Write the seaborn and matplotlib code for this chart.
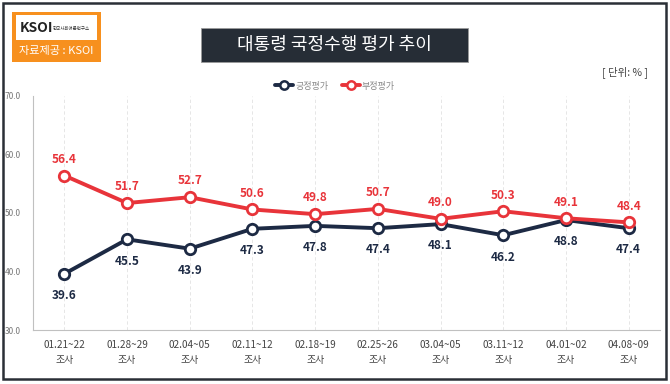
import numpy as np
import pandas as pd
import seaborn as sns
import matplotlib.pyplot as plt
from matplotlib.patches import Rectangle
from matplotlib.lines import Line2D

sns.set_style('white')
plt.rcParams['font.family'] = ['Noto Sans CJK KR', 'DejaVu Sans']

periods = ['01.21~22', '01.28~29', '02.04~05', '02.11~12', '02.18~19',
           '02.25~26', '03.04~05', '03.11~12', '04.01~02', '04.08~09']
positive = [39.6, 45.5, 43.9, 47.3, 47.8, 47.4, 48.1, 46.2, 48.8, 47.4]
negative = [56.4, 51.7, 52.7, 50.6, 49.8, 50.7, 49.0, 50.3, 49.1, 48.4]
series_names = ['긍정평가', '부정평가']
tick_labels = [p + '\n조사' for p in periods]

navy = '#1d2a44'
red = '#e8343a'

df = pd.DataFrame({'기간': periods * 2,
                   '값': positive + negative,
                   '구분': [series_names[0]] * len(periods) + [series_names[1]] * len(periods)})

W, H = 670, 384
fig = plt.figure(figsize=(W / 100, H / 100), dpi=100)

def px(x0, y0, x1, y1):
    return [x0 / W, 1 - y1 / H, (x1 - x0) / W, (y1 - y0) / H]

ax = fig.add_axes(px(33, 96, 660, 330))

for name, col in zip(series_names, [navy, red]):
    sub = df[df['구분'] == name]
    sns.lineplot(data=sub, x='기간', y='값', ax=ax, color=col, linewidth=2.8,
                 marker='o', markersize=7.5, markerfacecolor='white',
                 markeredgecolor=col, markeredgewidth=2.0, legend=False,
                 sort=False)

for i, v in enumerate(positive):
    ax.annotate(f'{v:.1f}', (i, v), xytext=(0, -11), textcoords='offset points',
                ha='center', va='top', fontsize=8.5, color=navy, fontweight='bold')
for i, v in enumerate(negative):
    ax.annotate(f'{v:.1f}', (i, v), xytext=(0, 7), textcoords='offset points',
                ha='center', va='bottom', fontsize=8.5, color=red, fontweight='bold')

ax.set_xlim(-0.5, len(periods) - 0.5)
ax.set_ylim(30, 70)
ax.set_yticks([30, 40, 50, 60, 70])
ax.set_yticklabels([f'{t:.1f}' for t in [30, 40, 50, 60, 70]], fontsize=6, color='#777777')
ax.set_xticks(range(len(periods)))
ax.set_xticklabels(tick_labels, fontsize=7.2, color='#444444', linespacing=1.6)
ax.set_xticks(np.arange(-0.5, len(periods), 1), minor=True)
ax.tick_params(axis='x', which='major', length=0, pad=7)
ax.tick_params(axis='x', which='minor', length=4, color='#bbbbbb', width=0.8)
ax.tick_params(axis='y', length=3, color='#bbbbbb', width=0.8, pad=6)
ax.set_xlabel('')
ax.set_ylabel('')
for i in range(len(periods)):
    ax.axvline(i, color='#e2e2e2', linestyle=(0, (4, 3)), linewidth=0.6, zorder=0)
for s in ['top', 'right']:
    ax.spines[s].set_visible(False)
for s in ['left', 'bottom']:
    ax.spines[s].set_color('#c0c0c0')
    ax.spines[s].set_linewidth(0.8)

# legend
handles = [Line2D([], [], color=c, linewidth=2.8, marker='o', markersize=6,
                  markerfacecolor='white', markeredgecolor=c, markeredgewidth=1.8)
           for c in [navy, red]]
fig.legend(handles, series_names, loc='center', bbox_to_anchor=(335 / W, 1 - 86 / H),
           ncol=2, frameon=False, fontsize=6.5, labelcolor='#888888',
           handlelength=2.0, handletextpad=0.2, columnspacing=1.5)

fig.text(625 / W, 1 - 72 / H, '[ 단위: % ]', ha='center', va='center',
         fontsize=7.5, color='#444444')

# title box
fig.patches.append(Rectangle((201 / W, 1 - 62 / H), 267 / W, 34 / H,
                             transform=fig.transFigure, facecolor='#262d36',
                             edgecolor='#9a9a9a', linewidth=0.6))
fig.text(334 / W, 1 - 45 / H, '대통령 국정수행 평가 추이', ha='center', va='center',
         fontsize=13, color='white')

# logo box
fig.patches.append(Rectangle((12 / W, 1 - 62 / H), 89 / W, 50 / H,
                             transform=fig.transFigure, facecolor='#f7901e',
                             edgecolor='none'))
fig.patches.append(Rectangle((16 / W, 1 - 40 / H), 81 / W, 25 / H,
                             transform=fig.transFigure, facecolor='white',
                             edgecolor='none'))
fig.text(20 / W, 1 - 28 / H, 'KSOI', ha='left', va='center', fontsize=10,
         fontweight='bold', color='#222222')
fig.text(53 / W, 1 - 28 / H, '한국사회여론연구소', ha='left', va='center',
         fontsize=3.2, color='#333333')
fig.text(56 / W, 1 - 51 / H, '자료제공 : KSOI', ha='center', va='center',
         fontsize=8, color='white')

# outer frame
fig.patches.append(Rectangle((3 / W, 1 - 379 / H), 663 / W, 376 / H,
                             transform=fig.transFigure, facecolor='none',
                             edgecolor='#2a2f36', linewidth=1.8))

fig.savefig('out.png', dpi=100)
